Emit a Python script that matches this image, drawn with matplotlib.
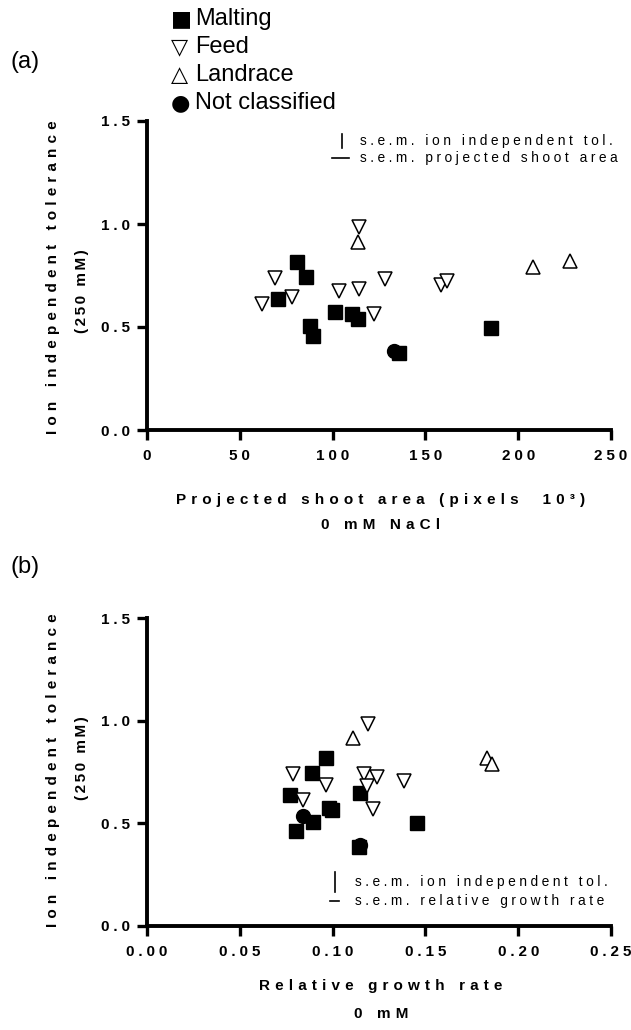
import matplotlib
matplotlib.use('Agg')
import matplotlib.pyplot as plt

# ---------------- data ----------------
# Panel (a): projected shoot area (pixels x10^3) vs ion independent tolerance
a_malting_x = [81.0, 85.5, 70.8, 87.8, 89.4, 101.5, 110.5, 113.9, 136.0, 185.2]
a_malting_y = [0.817, 0.744, 0.634, 0.506, 0.458, 0.574, 0.565, 0.537, 0.372, 0.497]
a_feed_x = [69.0, 62.1, 78.0, 103.3, 114.4, 114.4, 128.2, 122.5, 158.4, 161.6]
a_feed_y = [0.739, 0.610, 0.644, 0.675, 0.684, 0.987, 0.733, 0.565, 0.702, 0.723]
a_land_x = [113.5, 208.2, 227.9]
a_land_y = [0.914, 0.790, 0.820]
a_nc_x = [133.1]
a_nc_y = [0.385]

# Panel (b): relative growth rate vs ion independent tolerance
b_malting_x = [0.0963, 0.0891, 0.0770, 0.1148, 0.0980, 0.0995, 0.0896, 0.0803, 0.1142, 0.1456]
b_malting_y = [0.817, 0.747, 0.636, 0.646, 0.575, 0.566, 0.508, 0.462, 0.386, 0.500]
b_feed_x = [0.1189, 0.0788, 0.0963, 0.0842, 0.1171, 0.1241, 0.1184, 0.1216, 0.1385]
b_feed_y = [0.983, 0.739, 0.687, 0.614, 0.739, 0.724, 0.682, 0.570, 0.708]
b_land_x = [0.1108, 0.1832, 0.1861]
b_land_y = [0.915, 0.820, 0.791]
b_nc_x = [0.0842, 0.1148]
b_nc_y = [0.537, 0.394]

a_xticks = [0, 50, 100, 150, 200, 250]
a_xticklabels = ['0', '50', '100', '150', '200', '250']
b_xticks = [0.00, 0.05, 0.10, 0.15, 0.20, 0.25]
b_xticklabels = ['0.00', '0.05', '0.10', '0.15', '0.20', '0.25']
yticks = [0.0, 0.5, 1.0, 1.5]
yticklabels = ['0.0', '0.5', '1.0', '1.5']

legend_labels = ['Malting', 'Feed', 'Landrace', 'Not classified']
legend_glyphs = ['\u25A0', '\u25BD', '\u25B3', '\u25CF']

# ---------------- setup ----------------
FAM = ['Liberation Sans', 'DejaVu Sans']
plt.rcParams['font.family'] = FAM

W, H = 631, 1030
fig = plt.figure(figsize=(W / 100, H / 100), dpi=100)


def fx(px):
    return px / W


def fy(py):
    return 1 - py / H


def spaced(s, gap='\u2005'):
    return gap.join(s)


def make_axes(top, bottom):
    return fig.add_axes([fx(147), fy(bottom), fx(611) - fx(147), fy(top) - fy(bottom)])


def style(ax, xticks, xlabels):
    ax.set_xlim(xticks[0], xticks[-1])
    ax.set_ylim(0, 1.5)
    for s in ['top', 'right']:
        ax.spines[s].set_visible(False)
    for s in ['left', 'bottom']:
        ax.spines[s].set_linewidth(2.8)
    ax.set_xticks(xticks)
    ax.set_xticklabels([spaced(t, '\u2005') for t in xlabels], fontweight='bold', fontsize=11)
    ax.set_yticks(yticks)
    ax.set_yticklabels([spaced(t, '\u2005') for t in yticklabels], fontweight='bold', fontsize=11)
    ax.tick_params(direction='out', length=7, width=2.4, pad=5)
    ax.tick_params(axis='x', pad=7)


def draw(ax, mx, my, fx_, fy_, lx, ly, nx, ny):
    ax.plot(nx, ny, 'o', color='black', ms=10, mec='black', clip_on=False, zorder=3)
    ax.plot(mx, my, 's', color='black', ms=10, mec='black', clip_on=False, zorder=4)
    ax.plot(fx_, fy_, 'v', mfc='white', mec='black', mew=1.1, ms=9.5, ls='none', clip_on=False, zorder=5)
    ax.plot(lx, ly, '^', mfc='white', mec='black', mew=1.1, ms=9.5, ls='none', clip_on=False, zorder=5)


axA = make_axes(121, 430)
style(axA, a_xticks, a_xticklabels)
draw(axA, a_malting_x, a_malting_y, a_feed_x, a_feed_y, a_land_x, a_land_y, a_nc_x, a_nc_y)

axB = make_axes(618.3, 925.8)
style(axB, b_xticks, b_xticklabels)
draw(axB, b_malting_x, b_malting_y, b_feed_x, b_feed_y, b_land_x, b_land_y, b_nc_x, b_nc_y)

# s.e.m. indicators, panel (a)
sem_fs = 9.9
axA.plot([104.9, 104.9], [1.369, 1.437], color='black', lw=1.2, clip_on=False)
axA.plot([99.7, 108.9], [1.320, 1.320], color='black', lw=1.2, clip_on=False)
axA.text(114.8, 1.403, spaced('s.e.m. ion independent tol.'), fontsize=sem_fs, va='center', ha='left')
axA.text(114.8, 1.320, spaced('s.e.m. projected shoot area'), fontsize=sem_fs, va='center', ha='left')

# s.e.m. indicators, panel (b)
axB.plot([0.1013, 0.1013], [0.165, 0.262], color='black', lw=1.2, clip_on=False)
axB.plot([0.0986, 0.1034], [0.122, 0.122], color='black', lw=1.2, clip_on=False)
axB.text(0.1121, 0.215, spaced('s.e.m. ion independent tol.'), fontsize=sem_fs, va='center', ha='left')
axB.text(0.1121, 0.121, spaced('s.e.m. relative growth rate'), fontsize=sem_fs, va='center', ha='left')

# axis titles
bold = dict(fontweight='bold', fontsize=11, ha='center', va='center')
fig.text(fx(381), fy(500), spaced('Projected shoot area (pixels  10\u00b3)', '\u2004'), **bold)
fig.text(fx(381), fy(525), spaced('0 mM NaCl', '\u2004'), **bold)
fig.text(fx(381), fy(986), spaced('Relative growth rate', '\u2004'), **bold)
fig.text(fx(381), fy(1014), spaced('0 mM', '\u2004'), **bold)

for cy1, cy2 in [(277, 291), (770, 758)]:
    fig.text(fx(53), fy(cy1), spaced('Ion independent tolerance', '\u2004'), rotation=90, **bold)
    fig.text(fx(82), fy(cy2), spaced('(250 mM)', '\u2006'), rotation=90, **bold)

# panel letters
fig.text(fx(11), fy(62), '(a)', fontsize=17, ha='left', va='center')
fig.text(fx(11), fy(567), '(b)', fontsize=17, ha='left', va='center')

# legend
for i, (g, lab) in enumerate(zip(legend_glyphs, legend_labels)):
    yy = 19 + i * 28
    fig.text(fx(171), fy(yy), g, fontsize=16, ha='left', va='center', family=['DejaVu Sans'])
    fig.text(fx(195), fy(yy), lab, fontsize=17, ha='left', va='center')

fig.savefig('out.png', dpi=100)
